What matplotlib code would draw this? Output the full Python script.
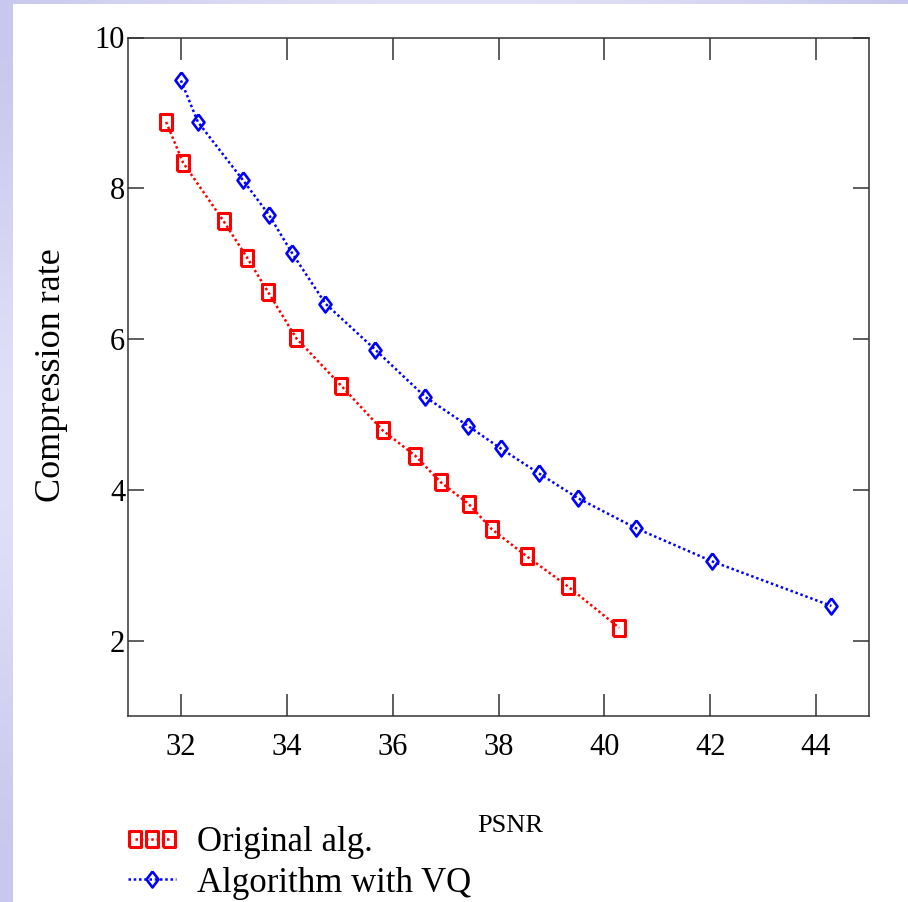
import matplotlib
matplotlib.use("Agg")
import matplotlib.pyplot as plt
import numpy as np
from matplotlib.legend_handler import HandlerLine2D

# PSNR (dB) vs compression rate for the two coders
orig_psnr = [31.72, 32.04, 32.81, 33.25, 33.65, 34.18, 35.03, 35.81,
             36.43, 36.91, 37.44, 37.87, 38.53, 39.31, 40.28]
orig_rate = [8.88, 8.34, 7.56, 7.08, 6.62, 6.01, 5.38, 4.79,
             4.45, 4.10, 3.81, 3.48, 3.12, 2.72, 2.17]

vq_psnr = [32.00, 32.32, 33.17, 33.67, 34.10, 34.73, 35.67, 36.62,
           37.42, 38.04, 38.76, 39.50, 40.60, 42.04, 44.29]
vq_rate = [9.43, 8.88, 8.11, 7.64, 7.14, 6.47, 5.86, 5.23,
           4.85, 4.55, 4.22, 3.89, 3.49, 3.05, 2.46]

x_ticks = [32, 34, 36, 38, 40, 42, 44]
y_ticks = [2, 4, 6, 8, 10]

W, H = 908, 902
plt.rcParams["font.family"] = ["Liberation Serif", "DejaVu Serif"]

fig = plt.figure(figsize=(W / 100, H / 100), dpi=100)

# lavender slide frame: strip down the left and along the top
bg = fig.add_axes([0, 0, 1, 1], zorder=-10)
bg.axis("off")
img = np.ones((H, W, 3))
lav_dark = np.array([200, 200, 238]) / 255
lav_light = np.array([224, 224, 246]) / 255
t = np.linspace(0, 1, H)[:, None]
left = lav_dark + (lav_light - lav_dark) * (0.5 - 0.5 * np.cos(2 * np.pi * t))
img[:, :13, :] = left[:, None, :]
s = np.linspace(0, 1, W)[:, None]
top = lav_dark + (lav_light - lav_dark) * np.sin(np.pi * s)
img[:4, :, :] = top[None, :, :]
bg.imshow(img, extent=[0, 1, 0, 1], aspect="auto")
bg.set_xlim(0, 1)
bg.set_ylim(0, 1)

ax = fig.add_axes([128 / W, 1 - 716 / H, (869 - 128) / W, (716 - 37.5) / H])

rect = [(-0.72, -1), (0.72, -1), (0.72, 1), (-0.72, 1), (-0.72, -1)]
diamond = [(0, 1), (0.75, 0), (0, -1), (-0.75, 0), (0, 1)]
dots = (0, (1, 1.1))

l1, = ax.plot(orig_psnr, orig_rate, color="#ff0000", ls=dots, lw=1.8,
              marker=rect, ms=12, mew=2.2, mfc="none", mec="#ff0000")
l2, = ax.plot(vq_psnr, vq_rate, color="#0000ff", ls=dots, lw=1.8,
              marker=diamond, ms=11.5, mew=1.9, mfc="none", mec="#0000ff")

ax.set_xlim(31, 45)
ax.set_ylim(1, 10)
ax.set_xticks(x_ticks)
ax.set_yticks(y_ticks)
ax.tick_params(direction="in", top=True, right=True, width=1.1,
               color="#333333", labelsize=22, labelcolor="black")
ax.tick_params(axis="x", length=16, pad=12)
ax.tick_params(axis="y", length=11.5, pad=2)
for sp in ax.spines.values():
    sp.set_linewidth(1.1)
    sp.set_color("#333333")

fig.text(51 / W, 1 - 375 / H, "Compression rate", rotation=90,
         ha="center", va="center", fontsize=26)
fig.text(510 / W, 1 - 826 / H, "PSNR", ha="center", va="center", fontsize=19)

fig.legend(handles=[l1, l2], labels=["Original alg.", "Algorithm with VQ"],
           loc="upper left", bbox_to_anchor=(128 / W, 1 - 826 / H),
           frameon=False, fontsize=25, handlelength=1.38, handletextpad=0.6,
           labelspacing=0.22, borderpad=0, borderaxespad=0,
           handler_map={l1: HandlerLine2D(numpoints=3, marker_pad=0.2),
                        l2: HandlerLine2D(numpoints=1)})

fig.savefig("out.png", dpi=100)
